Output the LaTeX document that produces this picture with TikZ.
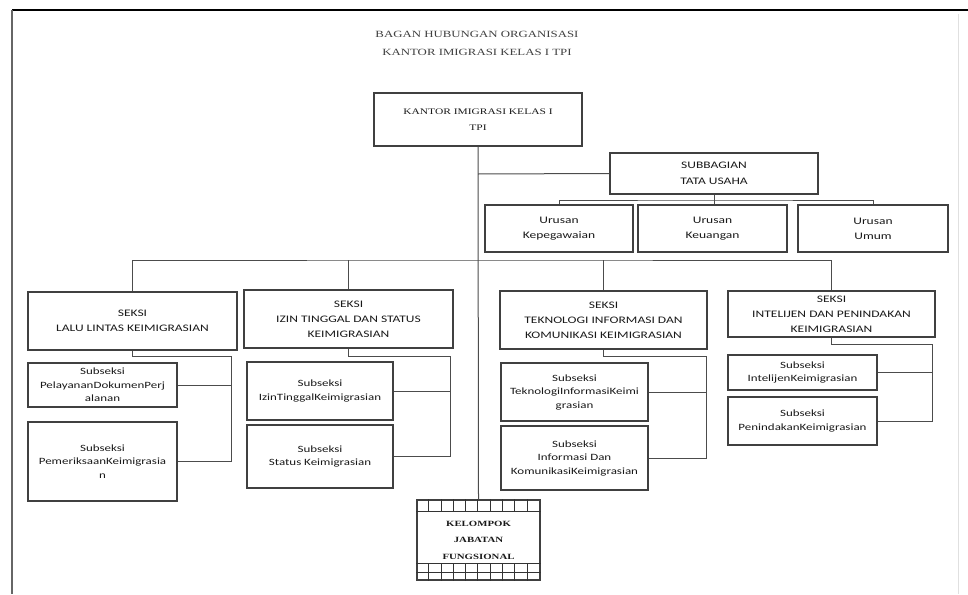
\documentclass[tikz,border=0pt]{standalone}
\usepackage{fontspec}
\setmainfont{Liberation Serif}
\newfontfamily\boxfont[FakeStretch=1.35]{Carlito}
\newfontfamily\serfont[FakeStretch=1.35]{Liberation Serif}

\begin{document}
\begin{tikzpicture}[x=1pt,y=-1pt,
    box/.style={draw=black!75, line width=1.3pt, inner sep=0pt, align=center, text=black!90,
        font=\boxfont\fontsize{10}{15}\selectfont},
    subbox/.style={box, minimum width=149, font=\boxfont\fontsize{9.6}{13.5}\selectfont},
    link/.style={draw=black!70, line width=1pt}]
    \useasboundingbox (0,0) rectangle (968,594);
    \draw[line width=1.4pt] (12,10) -- (968,10);
    \draw[line width=1.8pt, black!60] (12,10) -- (12,594);
    \draw[black!12] (958,14) -- (958,594);

    \node[align=center, text=black!75, font=\serfont\fontsize{9.5}{18}\selectfont] (judul) at (477,43)
        {BAGAN HUBUNGAN ORGANISASI\\KANTOR IMIGRASI KELAS I TPI};

    \node[box, minimum width=208, minimum height=53, font=\serfont\fontsize{8.5}{16}\selectfont] (kantor) at (478,119.5)
        {KANTOR IMIGRASI KELAS I\\TPI};
    \node[box, minimum width=208, minimum height=41, font=\boxfont\fontsize{10}{16}\selectfont] (tu) at (714,173.5)
        {SUBBAGIAN\\TATA USAHA};
    \node[box, minimum width=148, minimum height=47] (u1) at (559,228.5) {Urusan\\Kepegawaian};
    \node[box, minimum width=149, minimum height=47] (u2) at (712.5,228.5) {Urusan\\Keuangan};
    \node[box, minimum width=150, minimum height=47] (u3) at (873,228.5) {Urusan\\Umum};

    \node[box, minimum width=209, minimum height=58] (s1) at (132.5,321) {SEKSI\\LALU LINTAS KEIMIGRASIAN};
    \node[box, minimum width=209, minimum height=58] (s2) at (348.5,319) {SEKSI\\IZIN TINGGAL DAN STATUS\\KEIMIGRASIAN};
    \node[box, minimum width=207, minimum height=58] (s3) at (603.5,320) {SEKSI\\TEKNOLOGI INFORMASI DAN\\KOMUNIKASI KEIMIGRASIAN};
    \node[box, minimum width=207, minimum height=46] (s4) at (831.5,314) {SEKSI\\INTELIJEN DAN PENINDAKAN\\KEIMIGRASIAN};

    \node[subbox, minimum height=44] (s1a) at (102.5,385) {Subseksi\\PelayananDokumenPerj\\alanan};
    \node[subbox, minimum height=79] (s1b) at (102.5,461.5) {Subseksi\\PemeriksaanKeimigrasia\\n};
    \node[subbox, minimum width=146, minimum height=58] (s2a) at (320,391) {Subseksi\\IzinTinggalKeimigrasian};
    \node[subbox, minimum width=146, minimum height=63] (s2b) at (320,456.5) {Subseksi\\Status Keimigrasian};
    \node[subbox, minimum width=147, minimum height=58] (s3a) at (574.5,392) {Subseksi\\TeknologiInformasiKeimi\\grasian};
    \node[subbox, minimum width=147, minimum height=64] (s3b) at (574.5,458) {Subseksi\\Informasi Dan\\KomunikasiKeimigrasian};
    \node[subbox, minimum height=35] (s4a) at (802.5,372.5) {Subseksi\\IntelijenKeimigrasian};
    \node[subbox, minimum height=48] (s4b) at (802.5,421) {Subseksi\\PenindakanKeimigrasian};

    \node[box, minimum width=123, minimum height=80, font=\serfont\bfseries\fontsize{8}{16.5}\selectfont] (kel) at (478.5,540)
        {KELOMPOK\\JABATAN\\FUNGSIONAL};
    \draw[black!80, line width=0.8pt] ([yshift=-12]kel.north west) -- ([yshift=-12]kel.north east)
        ([yshift=17]kel.south west) -- ([yshift=17]kel.south east)
        ([yshift=8.5]kel.south west) -- ([yshift=8.5]kel.south east);
    \foreach \i in {1,...,9} {
        \draw[black!80, line width=0.8pt] ([xshift=\i*12.3]kel.north west) -- ++(0,12);
        \draw[black!80, line width=0.8pt] ([xshift=\i*12.3]kel.south west) -- ++(0,-17);
    }

    \coordinate (tujunc) at (478,174);
    \coordinate (ubus) at (714,200);
    \coordinate (sbus) at (478,260);
    \coordinate (s1c) at (231,356);
    \coordinate (s2c) at (450,356);
    \coordinate (s3c) at (706,356);
    \coordinate (s4c) at (932,344);

    \draw[link] (kantor.south) -- (kel.north);
    \draw[link] (tujunc) -- (tu.west);
    \draw[link] (tu.south) -- (tu.south |- u2.north);
    \draw[link] (u1.north) |- (ubus) -| (u3.north);
    \draw[link] (s1.north) |- (sbus) -| (s4.north);
    \draw[link] (s2.north) -- (s2.north |- sbus);
    \draw[link] (s3.north) -- (s3.north |- sbus);

    \draw[link] (s1.south) |- (s1c) |- (s1b.east);
    \draw[link] (s1a.east) -- (s1a.east -| s1c);
    \draw[link] (s2.south) |- (s2c) |- (s2b.east);
    \draw[link] (s2a.east) -- (s2a.east -| s2c);
    \draw[link] (s3.south) |- (s3c) |- (s3b.east);
    \draw[link] (s3a.east) -- (s3a.east -| s3c);
    \draw[link] (s4.south) |- (s4c) |- (s4b.east);
    \draw[link] (s4a.east) -- (s4a.east -| s4c);
\end{tikzpicture}
\end{document}
